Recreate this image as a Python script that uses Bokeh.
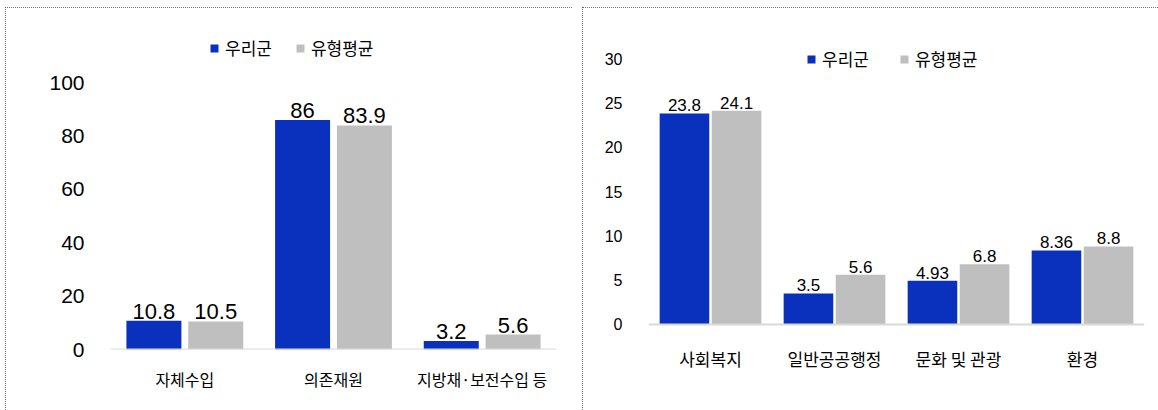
from bokeh.plotting import figure
from bokeh.models import FactorRange, Range1d, Legend, LegendItem, FixedTicker, ColumnDataSource, Span
from bokeh.transform import dodge
from bokeh.layouts import row
from bokeh.core.properties import value
from bokeh.embed import file_html
from bokeh.resources import INLINE

series_names = ["우리군", "유형평균"]

left_cats = ["자체수입", "의존재원", "지방채·보전수입 등"]
left_ours = [10.8, 86, 3.2]
left_avg = [10.5, 83.9, 5.6]
left_ticks = [0, 20, 40, 60, 80, 100]

right_cats = ["사회복지", "일반공공행정", "문화 및 관광", "환경"]
right_ours = [23.8, 3.5, 4.93, 8.36]
right_avg = [24.1, 5.6, 6.8, 8.8]
right_ticks = [0, 5, 10, 15, 20, 25, 30]

BLUE = "#0a31bd"
GREY = "#bfbfbf"
KFONT = "Noto Sans CJK KR"
NFONT = "Liberation Sans"


def make(cats, ours, avg, ticks, width, mb_left, mb_right, ystart, ytop,
         bar_w, off, tick_fs, val_fs, cat_fs, cat_standoff, leg_loc, leg_spacing):
    src = ColumnDataSource(dict(
        cat=cats, ours=ours, avg=avg,
        ours_t=[f"{v:g}" for v in ours], avg_t=[f"{v:g}" for v in avg]))
    p = figure(x_range=FactorRange(*cats), y_range=Range1d(ystart, ytop),
               width=width, height=403, output_backend="svg", toolbar_location=None,
               min_border_left=mb_left, min_border_right=mb_right,
               min_border_top=12, min_border_bottom=61)
    p.outline_line_color = None
    p.grid.visible = False
    p.background_fill_color = "white"
    p.border_fill_color = "white"

    r1 = p.vbar(x=dodge("cat", -off, range=p.x_range), top="ours", bottom=0, width=bar_w,
                source=src, fill_color=BLUE, line_color=None)
    r2 = p.vbar(x=dodge("cat", off, range=p.x_range), top="avg", bottom=0, width=bar_w,
                source=src, fill_color=GREY, line_color=None)
    p.text(x=dodge("cat", -off, range=p.x_range), y="ours", text="ours_t", source=src,
           text_align="center", text_baseline="bottom", y_offset=-2,
           text_font=value(NFONT), text_font_size=f"{val_fs}px", text_color="#000000")
    p.text(x=dodge("cat", off, range=p.x_range), y="avg", text="avg_t", source=src,
           text_align="center", text_baseline="bottom", y_offset=-2,
           text_font=value(NFONT), text_font_size=f"{val_fs}px", text_color="#000000")

    ya = p.yaxis[0]
    ya.ticker = FixedTicker(ticks=ticks)
    ya.axis_line_color = None
    ya.major_tick_line_color = None
    ya.minor_tick_line_color = None
    ya.major_tick_out = 0
    ya.major_label_standoff = 26
    ya.major_label_text_font = NFONT
    ya.major_label_text_font_size = f"{tick_fs}px"
    ya.major_label_text_color = "#000000"

    xa = p.xaxis[0]
    xa.axis_line_color = None
    xa.major_tick_line_color = None
    xa.minor_tick_line_color = None
    xa.major_tick_out = 0
    xa.major_label_standoff = cat_standoff
    xa.major_label_text_font = KFONT
    xa.major_label_text_font_size = f"{cat_fs}px"
    xa.major_label_text_color = "#000000"

    p.add_layout(Span(location=0, dimension="width", line_color="#d9d9d9", line_width=2))

    leg = Legend(items=[LegendItem(label=series_names[0], renderers=[r1]),
                        LegendItem(label=series_names[1], renderers=[r2])],
                 orientation="horizontal", location=leg_loc)
    leg.glyph_width = 10
    leg.glyph_height = 10
    leg.label_standoff = 6
    leg.spacing = leg_spacing
    leg.padding = 0
    leg.margin = 0
    leg.border_line_color = None
    leg.background_fill_alpha = 0
    leg.label_text_font = KFONT
    leg.label_text_font_size = "17px"
    leg.label_text_color = "#000000"
    leg.label_height = 18
    p.add_layout(leg)
    p.styles = {"outline": "1px dotted #444", "outline-offset": "-1px"}
    return p


p1 = make(left_cats, left_ours, left_avg, left_ticks, 567, 105, 16, 0, 123.6,
          0.37, 0.208, 21, 22, 16, 17, (99, 289), 23)
p2 = make(right_cats, right_ours, right_avg, right_ticks, 576, 66, 14, -2.82, 34.4,
          0.40, 0.21, 16, 17, 17, -4, (158, 278), 30)

page = row(p1, p2, spacing=10)
page.margin = (7, 0, 0, 5)
open("out.html", "w").write(file_html(page, INLINE))
